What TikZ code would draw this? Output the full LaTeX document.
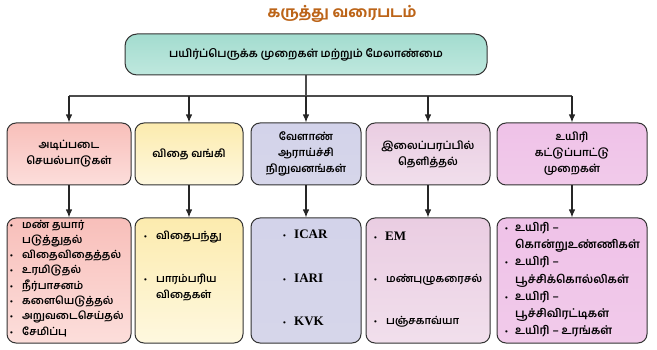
\documentclass[tikz,border=0pt]{standalone}
\usepackage{fontspec}
\setmainfont{Hind Madurai}[Script=Tamil, UprightFont=* SemiBold, BoldFont=* Bold]
\newfontfamily\latf{Liberation Serif}
\newfontfamily\bulf{Liberation Sans}
\usetikzlibrary{arrows.meta}
\definecolor{edge}{HTML}{333333}
\definecolor{titlec}{HTML}{BC6418}
\definecolor{tealT}{HTML}{A3DCCF}
\definecolor{tealM}{HTML}{E8F7F3}
\definecolor{tealB}{HTML}{BFE8DE}
\definecolor{redT}{HTML}{F8BFBA}
\definecolor{redB}{HTML}{FCDEDB}
\definecolor{yelT}{HTML}{FCEBAE}
\definecolor{yelB}{HTML}{FEF8DF}
\definecolor{lavT}{HTML}{D3D3EA}
\definecolor{lavM}{HTML}{F8F8FC}
\definecolor{lavB}{HTML}{D6D6EA}
\definecolor{pinkT}{HTML}{EACDE2}
\definecolor{pinkM}{HTML}{FDF8FB}
\definecolor{pinkB}{HTML}{F1DFEC}
\definecolor{magT}{HTML}{EFC2E8}
\definecolor{magM}{HTML}{FAEAF7}
\definecolor{magB}{HTML}{F1CAEA}
\tikzset{
  box/.style={draw=edge, line width=1pt, rounded corners=9pt, inner sep=0pt},
  topbox/.style={box, rounded corners=12pt, top color=tealT, middle color=tealM, bottom color=tealB},
  redbox/.style={box, top color=redT, bottom color=redB},
  yelbox/.style={box, top color=yelT, bottom color=yelB},
  lavbox/.style={box, top color=lavT, middle color=lavM, bottom color=lavB},
  pinkbox/.style={box, top color=pinkT, middle color=pinkM, bottom color=pinkB},
  magbox/.style={box, top color=magT, middle color=magM, bottom color=magB},
  row1/.style={minimum height=62pt},
  row2/.style={minimum height=125pt},
  arr/.style={line width=1.2pt, draw=black!85, -{Latex[length=8pt,width=6.5pt]}},
  conn/.style={line width=1.2pt, draw=black!70},
  hd/.style={align=center, font=\fontsize{10.8}{16}\selectfont},
  ln/.style={anchor=mid west, inner sep=0pt, font=\fontsize{10.6}{12}\selectfont},
  lnb/.style={anchor=mid west, inner sep=0pt, font=\fontsize{11.4}{12}\selectfont},
  en/.style={anchor=mid west, inner sep=0pt, font=\latf\bfseries\fontsize{13}{14}\selectfont},
  bu/.style={anchor=mid west, inner sep=0pt, font=\bulf\fontsize{8}{10}\selectfont},
}
\begin{document}
\begin{tikzpicture}[x=1pt,y=-1pt]
\useasboundingbox (0,0) rectangle (657,350);
% title
\node[font=\bfseries\fontsize{15}{18}\selectfont, text=titlec] (title) at (342,14) {கருத்து வரைபடம்};
% top box
\node[topbox, minimum width=362pt, minimum height=41pt] (top) at (306,54.5) {};
\node[hd, font=\fontsize{11}{16}\selectfont] (toptext) at (top) {பயிர்ப்பெருக்க முறைகள் மற்றும் மேலாண்மை};
% row 1
\node[redbox, row1, minimum width=124pt] (b1) at (69,154) {};
\node[yelbox, row1, minimum width=108pt] (b2) at (189,154) {};
\node[lavbox, row1, minimum width=110pt] (b3) at (306,154) {};
\node[pinkbox, row1, minimum width=124pt] (b4) at (428,154) {};
\node[magbox, row1, minimum width=150pt] (b5) at (572,154) {};
\node[hd] (h1) at (b1) {அடிப்படை\\செயல்பாடுகள்};
\node[hd] (h2) at (b2) {விதை வங்கி};
\node[hd] (h3) at (b3) {வேளாண்\\ஆராய்ச்சி\\நிறுவனங்கள்};
\node[hd] (h4) at (b4) {இலைப்பரப்பில்\\தெளித்தல்};
\node[hd] (h5) at (b5) {உயிரி\\கட்டுப்பாட்டு\\முறைகள்};
% row 2
\node[redbox, row2, minimum width=124pt] (c1) at (69,280.5) {};
\node[yelbox, row2, minimum width=108pt] (c2) at (189,280.5) {};
\node[lavbox, row2, minimum width=110pt] (c3) at (306,280.5) {};
\node[pinkbox, row2, minimum width=124pt] (c4) at (428,280.5) {};
\node[magbox, row2, minimum width=150pt] (c5) at (572,280.5) {};
% connectors
\coordinate (j) at (306,96);
\coordinate (jl) at (69,96);
\coordinate (jr) at (572,96);
\draw[conn] (top.south) -- (j);
\draw[conn] (jl) -- (jr);
\foreach \b in {b1,b2,b3,b4,b5} \draw[arr] (\b.north |- j) -- (\b.north);
\draw[arr] (b1.south) -- (c1.north);
\draw[arr] (b2.south) -- (c2.north);
\draw[arr] (b3.south) -- (c3.north);
\draw[arr] (b4.south) -- (c4.north);
\draw[arr] (b5.south) -- (c5.north);
% box 1 list
\node[bu] (u11) at (10,225.5) {•};
\node[ln] (t11) at (22,225.5) {மண் தயார்};
\node[ln] (t12) at (22,240.8) {படுத்துதல்};
\node[bu] (u13) at (10,256.1) {•};
\node[ln] (t13) at (22,256.1) {விதைவிதைத்தல்};
\node[bu] (u14) at (10,271.4) {•};
\node[ln] (t14) at (22,271.4) {உரமிடுதல்};
\node[bu] (u15) at (10,286.7) {•};
\node[ln] (t15) at (22,286.7) {நீர்பாசனம்};
\node[bu] (u16) at (10,302.0) {•};
\node[ln] (t16) at (22,302.0) {களையெடுத்தல்};
\node[bu] (u17) at (10,317.3) {•};
\node[ln] (t17) at (22,317.3) {அறுவடைசெய்தல்};
\node[bu] (u18) at (10,332.6) {•};
\node[ln] (t18) at (22,332.6) {சேமிப்பு};
% box 2 list
\node[bu] (u21) at (144,237) {•};
\node[ln] (t21) at (156,237) {விதைபந்து};
\node[bu] (u22) at (144,280) {•};
\node[ln] (t22) at (156,280) {பாரம்பரிய};
\node[ln] (t23) at (156,296) {விதைகள்};
% box 3 list
\node[bu] (u31) at (283,236) {•};
\node[en] (t31) at (294,236) {ICAR};
\node[bu] (u32) at (283,280) {•};
\node[en] (t32) at (294,280) {IARI};
\node[bu] (u33) at (283,323) {•};
\node[en] (t33) at (294,323) {KVK};
% box 4 list
\node[bu] (u41) at (374,238) {•};
\node[en] (t41) at (385,238) {EM};
\node[bu] (u42) at (374,280) {•};
\node[ln] (t42) at (386,280) {மண்புழுகரைசல்};
\node[bu] (u43) at (374,322) {•};
\node[ln] (t43) at (386,322) {பஞ்சகாவ்யா};
% box 5 list
\node[bu] (u51) at (505,229) {•};
\node[lnb] (t51) at (515,229) {உயிரி –};
\node[lnb] (t52) at (515,246.2) {கொன்றுஉண்ணிகள்};
\node[bu] (u53) at (505,263.4) {•};
\node[lnb] (t53) at (515,263.4) {உயிரி –};
\node[lnb] (t54) at (515,280.6) {பூச்சிக்கொல்லிகள்};
\node[bu] (u55) at (505,297.8) {•};
\node[lnb] (t55) at (515,297.8) {உயிரி –};
\node[lnb] (t56) at (515,315) {பூச்சிவிரட்டிகள்};
\node[bu] (u57) at (505,332.2) {•};
\node[lnb] (t57) at (515,332.2) {உயிரி – உரங்கள்};
\end{tikzpicture}
\end{document}
